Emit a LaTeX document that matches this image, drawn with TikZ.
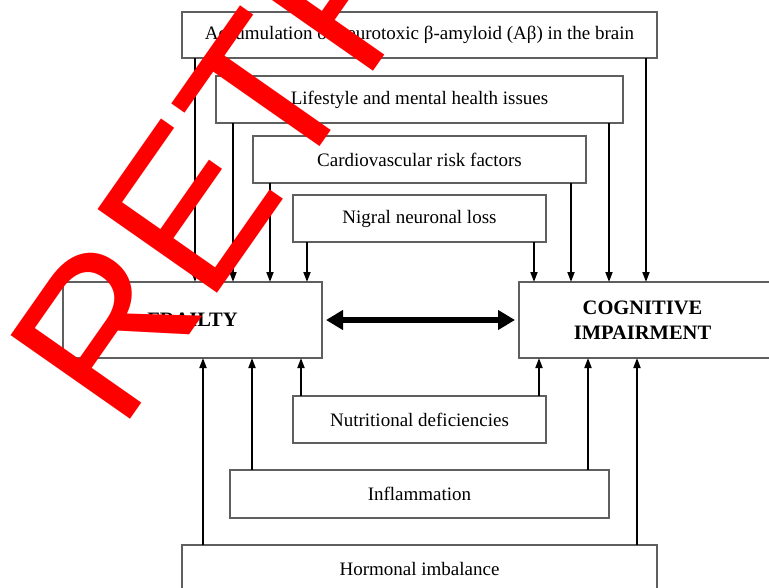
\documentclass[tikz,border=0pt]{standalone}
\usepackage{fontspec}
\setmainfont{Liberation Serif}
\setsansfont{Liberation Sans}
\usetikzlibrary{arrows.meta,calc}
\definecolor{boxgray}{RGB}{95,95,95}
\definecolor{stampred}{RGB}{255,0,0}
\begin{document}
\begin{tikzpicture}[x=1pt,y=1pt,
  box/.style={draw=boxgray, line width=1.1pt, inner sep=0pt, outer sep=0pt,
    font=\fontsize{19}{23}\selectfont, text=black, align=center},
  mainbox/.style={box, font=\fontsize{20.5}{25}\selectfont\bfseries},
  arr/.style={line width=1.8pt, -{Triangle[length=10pt,width=7pt]}},
  dbl/.style={line width=6pt, {Triangle[length=17pt,width=19pt]}-{Triangle[length=17pt,width=19pt]},
    shorten <=4pt, shorten >=4pt},
  stamp/.style={anchor=base west, rotate=55, inner sep=0pt, outer sep=0pt, text=stampred,
    font=\fontsize{212}{212}\selectfont\sffamily}
]
\useasboundingbox (0,0) rectangle (769,-587);
\clip (0,0) rectangle (769,-587);
\fill[white] (0,0) rectangle (769,-587);

\node[box, minimum width=475pt, minimum height=46pt] (A) at (419.5,-35)
  {Accumulation of neurotoxic β-amyloid (Aβ) in the brain};
\node[box, minimum width=407pt, minimum height=47pt] (L) at (419.5,-99.5)
  {Lifestyle and mental health issues};
\node[box, minimum width=333pt, minimum height=47pt] (C) at (419.5,-159.5)
  {Cardiovascular risk factors};
\node[box, minimum width=253pt, minimum height=47pt] (N) at (419.5,-218.5)
  {Nigral neuronal loss};
\node[mainbox, minimum width=259pt, minimum height=76pt] (F) at (192.5,-320)
  {FRAILTY};
\node[mainbox, minimum width=258pt, minimum height=76pt] (G) at (648,-320)
  {COGNITIVE\hspace*{11pt}\\IMPAIRMENT\hspace*{11pt}};
\node[box, minimum width=253pt, minimum height=47pt] (Nu) at (419.5,-419.5)
  {Nutritional deficiencies};
\node[box, minimum width=379pt, minimum height=48pt] (I) at (419.5,-494)
  {Inflammation};
\node[box, minimum width=475pt, minimum height=47pt] (H) at (419.5,-568.5)
  {Hormonal imbalance};

% top arrows
\coordinate (a1) at ([xshift=13pt]A.south west);
\coordinate (a2) at ([xshift=-11pt]A.south east);
\coordinate (l1) at ([xshift=17pt]L.south west);
\coordinate (l2) at ([xshift=-14pt]L.south east);
\coordinate (c1) at ([xshift=17pt]C.south west);
\coordinate (c2) at ([xshift=-15pt]C.south east);
\coordinate (n1) at ([xshift=14pt]N.south west);
\coordinate (n2) at ([xshift=-12pt]N.south east);
\draw[arr] (a1) -- (a1 |- F.north);
\draw[arr] (l1) -- (l1 |- F.north);
\draw[arr] (c1) -- (c1 |- F.north);
\draw[arr] (n1) -- (n1 |- F.north);
\draw[arr] (n2) -- (n2 |- G.north);
\draw[arr] (c2) -- (c2 |- G.north);
\draw[arr] (l2) -- (l2 |- G.north);
\draw[arr] (a2) -- (a2 |- G.north);

% bottom arrows
\coordinate (u1) at ([xshift=8pt]Nu.north west);
\coordinate (u2) at ([xshift=-7pt]Nu.north east);
\coordinate (i1) at ([xshift=22pt]I.north west);
\coordinate (i2) at ([xshift=-21pt]I.north east);
\coordinate (h1) at ([xshift=21pt]H.north west);
\coordinate (h2) at ([xshift=-20pt]H.north east);
\draw[arr] (u1) -- (u1 |- F.south);
\draw[arr] (i1) -- (i1 |- F.south);
\draw[arr] (h1) -- (h1 |- F.south);
\draw[arr] (u2) -- (u2 |- G.south);
\draw[arr] (i2) -- (i2 |- G.south);
\draw[arr] (h2) -- (h2 |- G.south);

% bidirectional
\draw[dbl] (F.east) -- (G.west);

% stamp
\node[stamp] (S) at (120,-433) {RETRACTED};
\end{tikzpicture}
\end{document}
